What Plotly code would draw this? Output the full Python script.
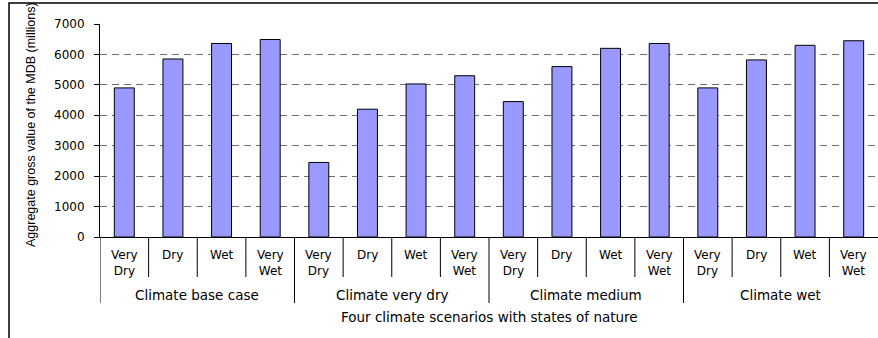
import plotly.graph_objects as go

# Climate scenarios (outer grouping) and states of nature (inner categories)
scenarios = ["Climate base case", "Climate very dry", "Climate medium", "Climate wet"]
states = ["Very<br>Dry", "Dry", "Wet", "Very<br>Wet"]

# Aggregate gross value of the MDB ($ millions), per scenario and state
base_case = [4900, 5850, 6360, 6490]
very_dry = [2450, 4200, 5030, 5300]
medium = [4450, 5600, 6200, 6360]
wet = [4900, 5820, 6300, 6450]

values = base_case + very_dry + medium + wet
n_states = len(states)
xpos = list(range(len(values)))

FONT = "DejaVu Sans, Verdana, sans-serif"
NARROW = "Liberation Sans, Arial, sans-serif"

fig = go.Figure()
fig.add_trace(go.Bar(
    x=xpos, y=values, width=0.41,
    marker=dict(color="#9999FF", line=dict(color="#000000", width=1)),
    showlegend=False, hoverinfo="y",
))

annotations = []
shapes = []

# State labels under each bar
for i, _ in enumerate(values):
    annotations.append(dict(
        x=i, xref="x", y=0, yref="paper", yanchor="top", yshift=-9,
        text=states[i % n_states], showarrow=False,
        font=dict(family=FONT, size=12, color="#000000"), align="center",
    ))

# Scenario labels centred under their four states
for g, name in enumerate(scenarios):
    annotations.append(dict(
        x=g * n_states + (n_states - 1) / 2, xref="x", y=0, yref="paper",
        yanchor="middle", yshift=-58, text=name, showarrow=False,
        font=dict(family=FONT, size=13.5, color="#000000"),
    ))

# Axis titles
annotations.append(dict(
    x=0.5, xref="paper", y=0, yref="paper", yanchor="middle", yshift=-80,
    text="Four climate scenarios with states of nature", showarrow=False,
    font=dict(family=FONT, size=13.5, color="#000000"),
))
annotations.append(dict(
    x=(31 - 100) / 778, xref="paper", y=(237 - 125) / 213, yref="paper",
    xanchor="center", yanchor="middle", textangle=-90,
    text="Aggregate gross value of the MDB (millions)", showarrow=False,
    font=dict(family=NARROW, size=12.5, color="#000000"),
))

# Divider lines between categories: short between states, long between scenarios
for k in range(len(values)):
    depth = -66 if k % n_states == 0 else -40
    shapes.append(dict(
        type="line", xref="x", x0=k - 0.5, x1=k - 0.5,
        yref="paper", ysizemode="pixel", yanchor=0, y0=0, y1=depth,
        line=dict(color="#000000", width=1),
    ))

# Outer frame around the chart
shapes.append(dict(
    type="rect", xref="paper", yref="paper",
    x0=(9 - 100) / 778, x1=1.05, y0=(237 - 360) / 213, y1=(237 - 3) / 213,
    line=dict(color="#000000", width=1.5), fillcolor="rgba(0,0,0,0)", layer="below",
))

fig.update_layout(
    width=878, height=338,
    margin=dict(l=100, r=0, t=24, b=101, pad=0),
    paper_bgcolor="white", plot_bgcolor="white",
    bargap=0.59,
    annotations=annotations, shapes=shapes,
    font=dict(family=FONT, size=12, color="#000000"),
)
fig.update_xaxes(
    range=[-0.5, len(values) - 0.5], showticklabels=False, ticks="",
    showgrid=False, zeroline=False, showline=True, linecolor="#000000", linewidth=1,
)
fig.update_yaxes(
    range=[0, 7000], dtick=1000, tick0=0,
    showline=True, linecolor="#000000", linewidth=1,
    ticks="outside", ticklen=5, tickcolor="#000000", tickwidth=1,
    ticklabelstandoff=7,
    showgrid=True, gridcolor="#6e6e6e", gridwidth=1, griddash="7px,5px",
    zeroline=False, tickfont=dict(family=FONT, size=12, color="#000000"),
)

fig.write_html("out.html")
